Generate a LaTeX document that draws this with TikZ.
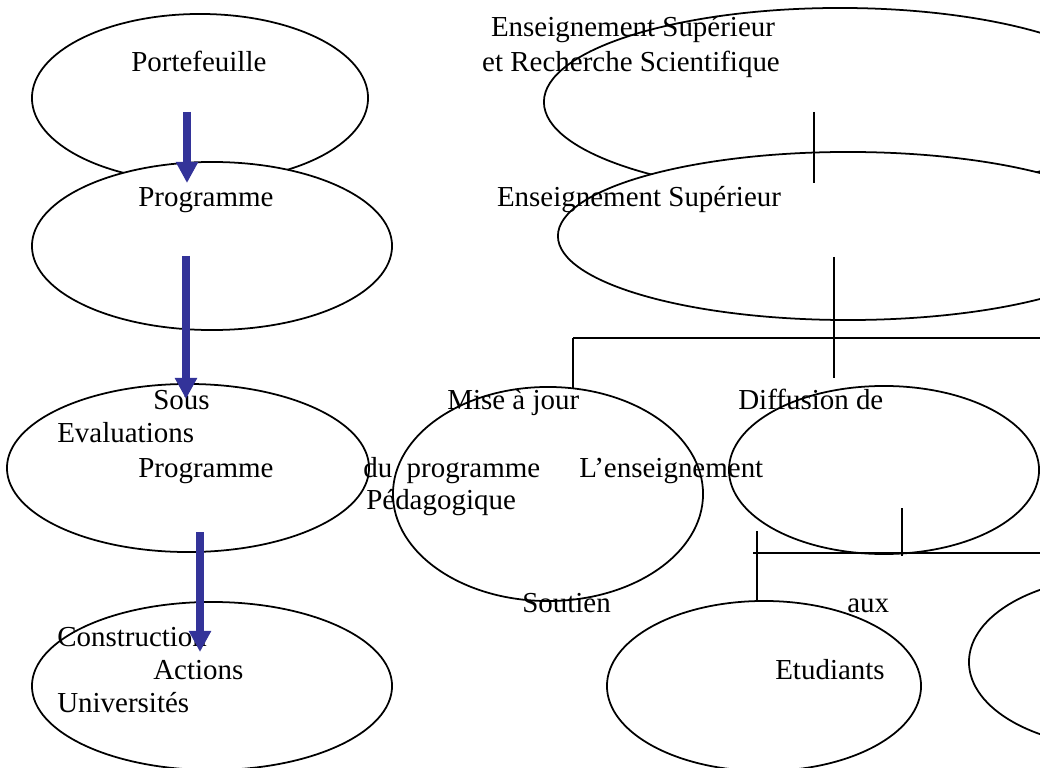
\documentclass[tikz,border=0pt]{standalone}
\usepackage{fontspec}
\setmainfont{Liberation Serif}
\usepackage{tikz}
\usetikzlibrary{shapes.geometric,arrows.meta}
\definecolor{ProgBlue}{HTML}{333399}

\begin{document}
\begin{tikzpicture}[x=0.025cm, y=-0.025cm,
                    oval/.style 2 args={ellipse, draw, fill=white, line width=1.25pt, inner sep=0pt,
                                        minimum width=#1*0.05cm, minimum height=#2*0.05cm},
                    txt/.style={anchor=base west, inner sep=0pt, font=\fontsize{20.6}{24}\selectfont},
                    branch/.style={draw, line width=1.25pt},
                    progarrow/.style={draw=ProgBlue, line width=5pt,
                                      -{Triangle[width=0.525cm,length=0.525cm]}}]
\useasboundingbox (0,0) rectangle (1040,768);
\clip (0,0) rectangle (1040,768);
% left column
\node[oval={168}{84}] (porte) at (200,98) {};
\node[oval={180}{84}] (prog) at (212,246) {};
\node[oval={181}{84}] (sousprog) at (188,468) {};
\node[oval={180}{84}] (actions) at (212,686) {};
% right tree
\node[oval={296}{94}] (esrs) at (840,102) {};
\node[oval={290}{84}] (es) at (848,236) {};
\node[oval={155}{107}] (miseajour) at (548,494) {};
\node[oval={155}{84}] (diffusion) at (884,470) {};
\node[oval={157}{85}] (etudiants) at (764,686) {};
\node[oval={151}{85}] (autre) at (1120,662) {};

\coordinate (t1a) at (814,112);  \coordinate (t1b) at (814,183);
\coordinate (t2a) at (834,257);  \coordinate (t2b) at (834,378);
\coordinate (h1a) at (573,338);  \coordinate (h1b) at (1045,338);
\coordinate (d1) at (573,389);
\coordinate (h2a) at (753,553);  \coordinate (h2b) at (1045,553);
\coordinate (t3a) at (902,508);  \coordinate (t3b) at (902,556);
\coordinate (t4a) at (757,531);  \coordinate (t4b) at (757,602);
\draw[branch] (t1a) -- (t1b);
\draw[branch] (t2a) -- (t2b);
\draw[branch] (h1a) -- (h1b);
\draw[branch] (h1a) -- (d1);
\draw[branch] (h2a) -- (h2b);
\draw[branch] (t3a) -- (t3b);
\draw[branch] (t4a) -- (t4b);

% texts
\node[txt] (tporte) at (131,72) {Portefeuille};
\node[txt] (tprog) at (138,207) {Programme};
\node[txt, anchor=base] (tesrs1) at (633,37) {Enseignement Supérieur};
\node[txt, anchor=base] (tesrs2) at (631,72) {et Recherche Scientifique};
\node[txt, anchor=base] (tes) at (639,207) {Enseignement Supérieur};
\node[txt] (tsous) at (153,409) {Sous};
\node[txt] (teval) at (57,442) {Evaluations};
\node[txt] (tsousprog) at (138,477) {Programme};
\node[txt] (tdu) at (363,477) {du~~programme};
\node[txt] (tlens) at (579,477) {L’enseignement};
\node[txt] (tpeda) at (366,509) {Pédagogique};
\node[txt] (tmise) at (447,409) {Mise à jour};
\node[txt] (tdiff) at (738,409) {Diffusion de};
\node[txt] (tsoutien) at (522,612) {Soutien};
\node[txt] (taux) at (847,612) {aux};
\node[txt] (tetud) at (775,679) {Etudiants};
\node[txt] (tconst) at (57,646) {Construction};
\node[txt] (tact) at (153,679) {Actions};
\node[txt] (tuniv) at (57,712) {Universités};

% arrows
\coordinate (a1s) at (187,112);  \coordinate (a1e) at (187,183);
\coordinate (a2s) at (186,256);  \coordinate (a2e) at (186,399);
\coordinate (a3s) at (200,532);  \coordinate (a3e) at (200,652);
\draw[progarrow] (a1s) -- (a1e);
\draw[progarrow] (a2s) -- (a2e);
\draw[progarrow] (a3s) -- (a3e);
\end{tikzpicture}
\end{document}
